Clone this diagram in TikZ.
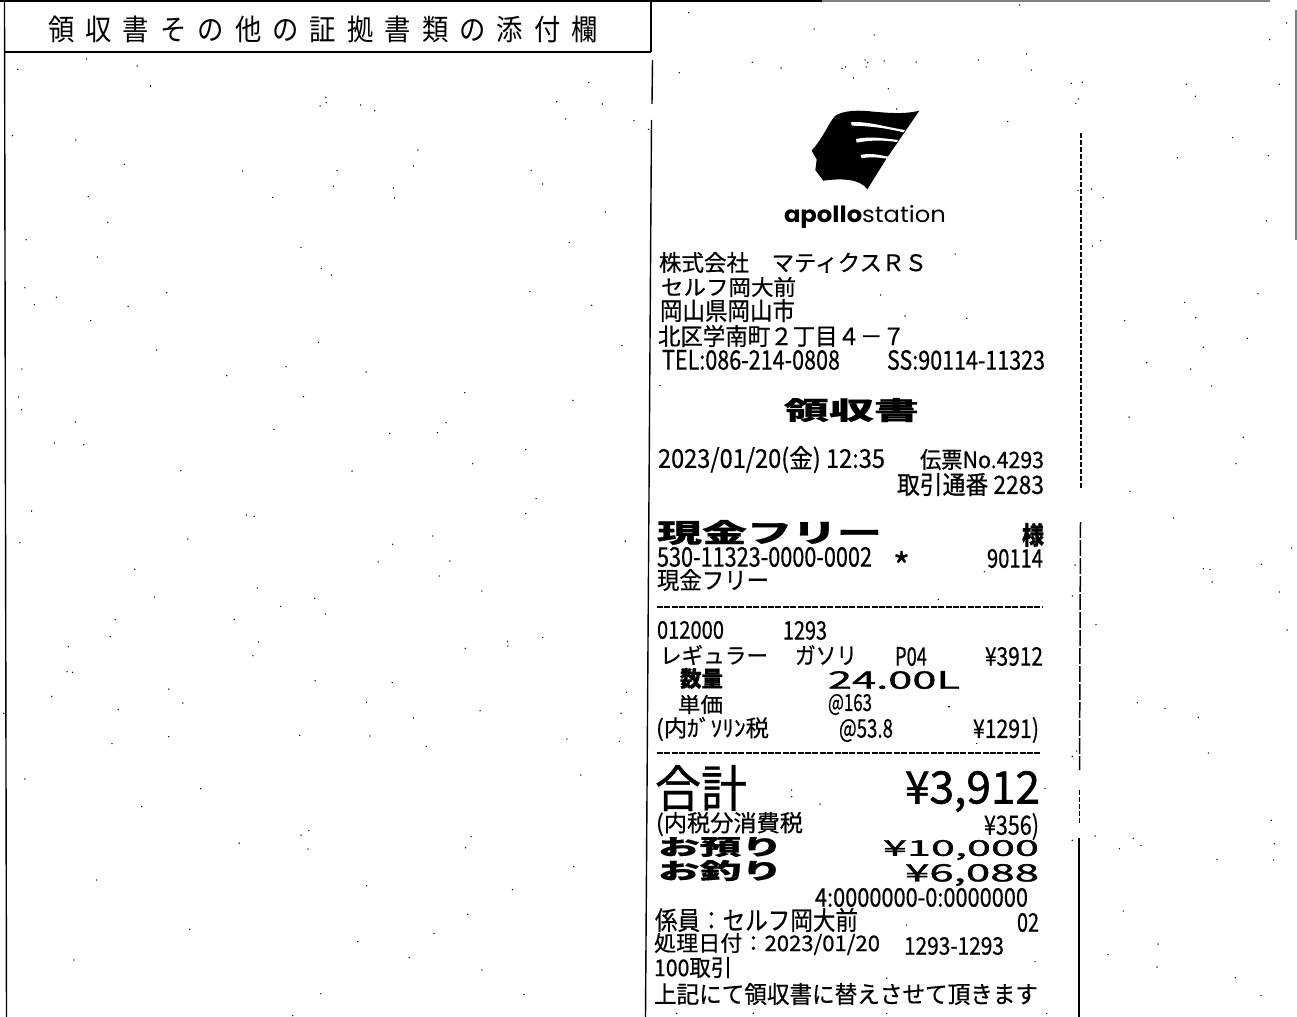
\documentclass[tikz,border=0pt]{standalone}
\usepackage{graphicx}
\usepackage{fontspec}
\newfontfamily\jp[FakeBold=0.6]{Noto Sans CJK JP}
\newfontfamily\jpwide[LetterSpace=42]{Noto Sans CJK JP}
\newfontfamily\jpheavy[FakeBold=1.2]{Noto Sans CJK JP}
\newfontfamily\pop{Poppins}
\tikzset{
  fitbox/.style={inner sep=0pt,outer sep=0pt,anchor=south west,font=\jp},
  frameline/.style={line width=0.7pt,black},
  edgeline/.style={line width=0.75pt,black},
  cutline/.style={line width=0.75pt,black,dash pattern=on 2.5pt off 1pt},
  spk/.style={black}
}
% name, x1, x2, top, bottom, text (all reference pixels)
\newcommand{\fitline}[6]{%
  \pgfmathsetmacro{\fitw}{(#3-#2)*0.5}%
  \pgfmathsetmacro{\fith}{(#5-#4)*0.5}%
  \node[fitbox] (#1) at (#2,#5) {\resizebox*{\fitw pt}{\fith pt}{#6}};%
}
\newcommand{\specks}[4]{%
  \begin{scope}[shift={(#1,#2)},x=#3,y=-0.16667pt]
    \fill[spk] foreach \a/\b in {#4} {(\a,\b) circle[radius=0.38pt]};
  \end{scope}%
}
\begin{document}
\begin{tikzpicture}[x=0.5pt,y=-0.5pt]
\useasboundingbox (0,0) rectangle (1297,1017);
\fill[white] (0,0) rectangle (1297,1017);
% frame
\draw[frameline,line width=1pt] (0,1) -- (822,1);
\draw[gray,line width=0.7pt] (822,1) -- (1270,1);
\draw[frameline] (4.5,2) -- (6.5,1017);
\draw[frameline] (4.5,52) -- (651,52);
\draw[frameline] (651,1) -- (651,52);
\draw[frameline] (652.5,60) -- (652,104);
\draw[frameline] (651.5,120) -- (645.5,1017);
\draw[gray,line width=0.8pt] (1296,10) -- (1296,240);
% receipt right edge
\draw[cutline] (1081,133) -- (1081,490);
\draw[cutline,dash pattern=on 8pt off 1pt] (1080.5,522) -- (1079.5,770);
\draw[cutline] (1079.5,790) -- (1079.5,825);
\draw[edgeline] (1079,838) -- (1079,1017);
% header
\fitline{hdr}{48}{598}{16}{43}{\jpwide 領収書その他の証拠書類の添付欄}
% logo
\begin{scope}[shift={(640,90)},x=0.16667pt,y=-0.16667pt]
\fill[black] (838,62) .. controls (790,74) and (740,68) .. (700,65)
  .. controls (660,60) and (610,60) .. (585,78)
  .. controls (565,100) and (555,135) .. (515,182)
  -- (530,208) -- (526,240) -- (550,272)
  .. controls (600,265) and (660,265) .. (682,298)
  -- (740,205) -- (795,125) -- cycle;
\fill[white] (632,97) .. controls (680,92) and (740,112) .. (795,120) -- (790,127)
  .. controls (730,112) and (680,108) .. (636,107) -- cycle;
\fill[white] (648,147) .. controls (690,138) and (730,145) .. (775,150) -- (770,156)
  .. controls (730,150) and (690,150) .. (650,158) -- cycle;
\fill[white] (662,195) .. controls (690,188) and (720,195) .. (745,200) -- (740,206)
  .. controls (715,202) and (690,200) .. (665,205) -- cycle;
\end{scope}
\fitline{logotext}{784}{946}{205}{228}{\pop\textbf{apollo}station}
% address block
\fitline{l1}{659}{927}{252}{273}{\jp 株式会社　マティクスＲＳ}
\fitline{l2}{661}{796}{277}{297}{\jp セルフ岡大前}
\fitline{l3}{660}{795}{299}{322}{\jp 岡山県岡山市}
\fitline{l4}{658}{905}{325}{347}{\jp 北区学南町２丁目４－７}
\fitline{l5a}{662}{840}{350}{370}{\jp TEL:086-214-0808}
\fitline{l5b}{887}{1045}{350}{370}{\jp SS:90114-11323}
\fitline{title}{784}{919}{398}{422}{\jp\bfseries 領収書}
\fitline{d1}{658}{885}{446}{473}{\jp 2023/01/20(金) 12:35}
\fitline{d2}{920}{1044}{449}{470}{\jp 伝票No.4293}
\fitline{d3}{897}{1044}{473}{496}{\jp 取引通番 2283}
\fitline{c1}{657}{882}{520}{545}{\jp\bfseries 現金フリー}
\fitline{c2}{1022}{1044}{523}{547}{\jp\bfseries 様}
\fitline{c3}{657}{872}{547}{567}{\jp 530-11323-0000-0002}
\fitline{c4}{893}{910}{551}{580}{\jp *}
\fitline{c5}{987}{1043}{549}{568}{\jp 90114}
\fitline{c6}{657}{769}{569}{591}{\jp 現金フリー}
\coordinate (da) at (657,607); \coordinate (db) at (1043,607);
\draw[black,line width=0.75pt,dash pattern=on 3pt off 0.7pt] (da) -- (db);
\fitline{i1}{657}{724}{621}{639}{\jp 012000}
\fitline{i2}{783}{827}{621}{640}{\jp 1293}
\fitline{i3}{660}{768}{645}{665}{\jp レギュラー}
\fitline{i4}{795}{857}{645}{665}{\jp ガソリ}
\fitline{i5}{895}{927}{647}{666}{\jp P04}
\fitline{i6}{985}{1043}{647}{666}{\jp ¥3912}
\fitline{i7}{680}{723}{668}{689}{\jp\bfseries 数量}
\fitline{i8}{828}{960}{671}{689}{\jpheavy 24.00L}
\fitline{i9}{678}{723}{695}{714}{\jp 単価}
\fitline{i10}{828}{872}{694}{715}{\jp @163}
\fitline{i11}{656}{769}{717}{741}{\jp (内ｶﾞｿﾘﾝ税}
\fitline{i12}{839}{893}{719}{742}{\jp @53.8}
\fitline{i13}{973}{1039}{717}{743}{\jp ¥1291)}
\coordinate (dc) at (657,753); \coordinate (dd) at (1040,753);
\draw[black,line width=0.75pt,dash pattern=on 3pt off 0.7pt] (dc) -- (dd);
\fitline{t1}{655}{747}{765}{811}{\jp 合計}
\fitline{t2}{905}{1040}{771}{812}{\jpheavy ¥3,912}
\fitline{t3}{656}{803}{812}{836}{\jp (内税分消費税}
\fitline{t4}{984}{1039}{813}{840}{\jp ¥356)}
\fitline{t5}{658}{783}{837}{857}{\jp\bfseries お預り}
\fitline{t6}{883}{1039}{840}{860}{\jpheavy ¥10,000}
\fitline{t7}{658}{783}{860}{881}{\jp\bfseries お釣り}
\fitline{t8}{905}{1039}{864}{886}{\jpheavy ¥6,088}
\fitline{f1}{815}{1028}{888}{907}{\jp 4:0000000-0:0000000}
\fitline{f2}{655}{858}{908}{932}{\jp 係員：セルフ岡大前}
\fitline{f3}{1017}{1039}{913}{932}{\jp 02}
\fitline{f4}{654}{880}{933}{955}{\jp 処理日付：2023/01/20}
\fitline{f5}{904}{1004}{937}{955}{\jp 1293-1293}
\fitline{f6}{654}{732}{957}{978}{\jp 100取引}
\fitline{f7}{654}{1038}{983}{1005}{\jp 上記にて領収書に替えさせて頂きます}
% specks
\specks{0}{50}{0.2073pt}{209/27,43/58,331/48,363/108,786/142,787/158,772/168,870/165,904/182,1420/98,1343/155,1453/162,1364/207,1529/212,1564/238,30/257,183/270,1008/300,300/343,585/363,813/362,997/348,1281/361,1309/402,804/409,949/414,952/444,658/442,213/440,260/517,1460/486,63/569,1373/578,726/592,235/621,775/655,799/675,60/713,136/742,402/728,1278/725,83/764,309/769,1427/766,219/812,768/877,378/900,1500/887,690/950,53/957}
\specks{0}{370}{0.2073pt}{547/17,883/6,45/81,52/119,732/80,1121/68,1382/91,182/156,661/178,1076/158,1055/188,940/190,131/219,202/224,1268/239,436/302,849/303,1140/281,1293/386,76/423,594/435,613/439,1268/431,48/518,453/507,1044/498,947/523,1508/513,912/576,1085/573,325/598,1059/618,621/654,1162/663,373/681,759/685,677/709,785/732,278/749,565/748,266/800,165/830,623/816,1309/802,1224/814,1225/828,1122/835,610/857,162/905,175/907,760/932,946/938,407/957}
\specks{0}{690}{0.2073pt}{125/19,441/39,884/37,285/59,997/84,1158/62,1511/7,1498/70,9/70,407/140,723/136,892/138,270/161,1028/169,1494/154,1367/147,60/267,1401/255,484/296,342/350,745/422,726/435,1136/440,577/459,743/477,1123/473,1384/530,233/570,884/587,1236/599,1128/673,457/718,1047/730,863/755,178/810,987/802,1162/840,774/911,1264/914,706/977}
\specks{1040}{0}{0.16667pt}{740/69,689/119,94/250,127/247,439/253,466/289,718/253,115/297,107/310,578/413,412/473,685/467,155/567,114/571,190/593,679/662,182/722,157/738,654/881,434/907,467/953,254/962,622/1015,490/1042,320/1088,452/1107,515/1158,267/1251,610/1312,588/1391,270/1474}
\specks{1040}{507}{0.16667pt}{401/33,755/123,490/185,510/188,664/172,105/174,516/225,97/267,718/255,168/353,741/369,292/587,375/604,475/631,505/738,97/748,110/732,694/940,165/987,280/994,97/1000,703/1010,303/1015,238/1025,531/1057,701/1059,250/1212,354/1311,204/1343,351/1380,586/1412,663/1466}
\specks{640}{0}{0.16667pt}{146/38,522/87,702/105,1139/15,337/187,423/204,118/218,675/180,683/188,678/201,617/201,606/205,732/183,828/186,1015/180,1160/162,1174/210,640/234,745/266,770/327,1103/365}
\specks{640}{90}{0.16667pt}{945/492,722/615,795/678,980/685,60/887}
\specks{640}{390}{0.16667pt}{895/628,1020/650,928/950,1033/545}
\specks{640}{700}{0.16667pt}{925/20,1010/130,800/675,455/270,455/290,540/312,1185/785,740/835,1215/265,110/940,340/940,740/940,1220/940}
\end{tikzpicture}
\end{document}
